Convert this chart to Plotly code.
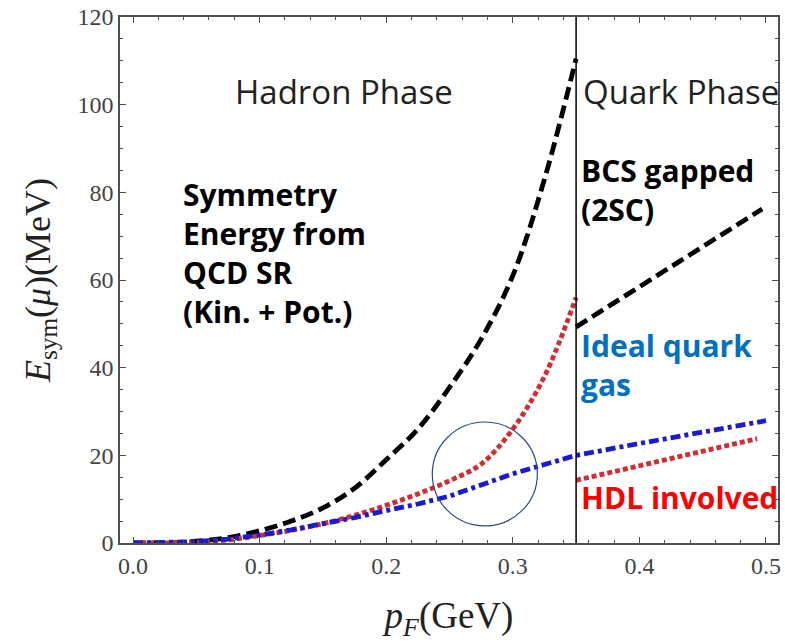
import plotly.graph_objects as go

# ---- data ----
p_hadron = [0.0, 0.025, 0.05, 0.075, 0.1, 0.125, 0.15, 0.175, 0.2, 0.225, 0.25, 0.275, 0.3, 0.325, 0.35]
E_qcdsr_hadron = [0.0, 0.05, 0.4, 1.2, 2.8, 5.0, 8.0, 12.5, 19.0, 26.0, 35.5, 46.5, 61.0, 83.0, 110.5]
E_hdl_hadron = [0.0, 0.03, 0.2, 0.7, 1.7, 2.9, 4.4, 6.3, 8.6, 11.2, 14.2, 18.0, 26.0, 38.0, 56.0]

p_ideal = [0.0, 0.025, 0.05, 0.075, 0.1, 0.125, 0.15, 0.175, 0.2, 0.225, 0.25, 0.275, 0.3, 0.325, 0.35, 0.4, 0.45, 0.5]
E_ideal = [0.0, 0.05, 0.3, 0.9, 1.8, 3.0, 4.3, 5.8, 7.4, 8.9, 10.7, 13.2, 15.8, 17.9, 20.0, 22.7, 25.3, 27.9]

p_bcs = [0.35, 0.42, 0.497]
E_bcs = [49.3, 62.0, 76.2]

p_hdl_quark = [0.35, 0.42, 0.493]
E_hdl_quark = [14.3, 19.0, 23.8]

x_ticks = [0.0, 0.1, 0.2, 0.3, 0.4, 0.5]
x_ticktext = ["0.0", "0.1", "0.2", "0.3", "0.4", "0.5"]
y_ticks = [0, 20, 40, 60, 80, 100, 120]

p_transition = 0.35

BLACK = "#000000"
RED = "#d42a32"
BLUE = "#1a1ad2"
AXIS = "#505050"

fig = go.Figure()

fig.add_trace(go.Scatter(x=p_hadron, y=E_qcdsr_hadron, mode="lines", line_shape="spline",
                         line=dict(color=BLACK, width=4.8, dash="13px,6px"), showlegend=False))
fig.add_trace(go.Scatter(x=p_hadron, y=E_hdl_hadron, mode="lines", line_shape="spline",
                         line=dict(color=RED, width=4.8, dash="5px,3px"), showlegend=False))
fig.add_trace(go.Scatter(x=p_ideal, y=E_ideal, mode="lines",
                         line=dict(color=BLUE, width=4.8, dash="10px,4px,4px,4px"), showlegend=False))
fig.add_trace(go.Scatter(x=p_bcs, y=E_bcs, mode="lines",
                         line=dict(color=BLACK, width=4.8, dash="13px,6px"), showlegend=False))
fig.add_trace(go.Scatter(x=p_hdl_quark, y=E_hdl_quark, mode="lines",
                         line=dict(color=RED, width=4.8, dash="5px,3px"), showlegend=False))

# phase boundary
fig.add_shape(type="line", xref="x", yref="paper", x0=p_transition, x1=p_transition, y0=0, y1=1,
              line=dict(color="#000000", width=1.5))
# highlight circle
fig.add_shape(type="circle", xref="x", yref="y", x0=0.2364, x1=0.3194, y0=3.9, y1=27.6,
              line=dict(color="#2c4a84", width=1.2))

SANS = "Open Sans"
def label(text, x, y, size, color, bold):
    fig.add_annotation(text=text, xref="paper", yref="paper", x=x, y=y,
                       xanchor="left", yanchor="top", align="left", showarrow=False,
                       font=dict(family=SANS, size=size, color=color,
                                 weight="bold" if bold else "normal"))

label("Hadron Phase", 0.1720, 0.905, 33, "#222222", False)
label("Quark Phase", 0.700, 0.905, 33, "#222222", False)
label("Symmetry<br>Energy from<br>QCD SR<br>(Kin. + Pot.)", 0.0920, 0.706, 30, "#000000", True)
label("BCS gapped<br>(2SC)", 0.697, 0.751, 30, "#000000", True)
label("Ideal quark<br>gas", 0.697, 0.419, 30, "#0070c0", True)
label("HDL involved", 0.697, 0.130, 30, "#ff0000", True)

SERIF = "Liberation Serif"
axis_common = dict(showgrid=False, zeroline=False, showline=True, linecolor=AXIS, linewidth=1.5,
                   mirror="allticks", ticks="inside", ticklen=6, tickwidth=1, tickcolor=AXIS,
                   tickfont=dict(family=SERIF, size=24, color="#444444"))

fig.update_xaxes(range=[-0.0103, 0.5095], tickvals=x_ticks, ticktext=x_ticktext,
                 minor=dict(dtick=0.02, tick0=0, ticks="inside", ticklen=3.5, tickcolor=AXIS),
                 title=dict(text="<i>p</i><sub><i>F</i></sub>(GeV)",
                            font=dict(family=SERIF, size=37, color="#222222"), standoff=28),
                 **axis_common)
fig.update_yaxes(range=[0, 120], tickvals=y_ticks,
                 minor=dict(dtick=5, tick0=0, ticks="inside", ticklen=3.5, tickcolor=AXIS),
                 title=dict(text="<i>E</i><sub>sym</sub>(<i>μ</i>)(MeV)",
                            font=dict(family=SERIF, size=36, color="#222222"), standoff=16),
                 **axis_common)

fig.update_layout(width=785, height=642, margin=dict(l=120, r=7, t=17, b=99, autoexpand=False),
                  plot_bgcolor="white", paper_bgcolor="white")

fig.write_html("out.html")
